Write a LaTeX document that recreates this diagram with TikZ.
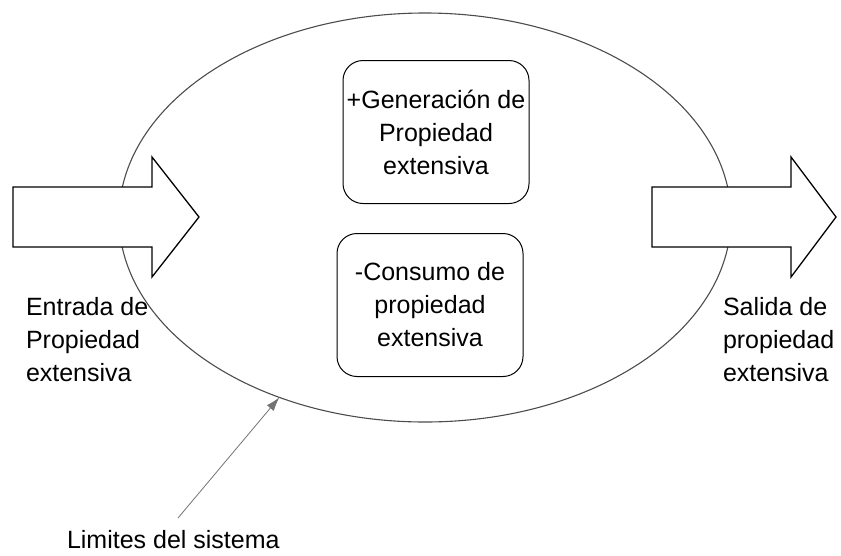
\documentclass[tikz,border=0pt]{standalone}
\usepackage{fontspec}
\setmainfont{Liberation Sans}
\usetikzlibrary{shapes.geometric,arrows.meta}
\begin{document}
\begin{tikzpicture}[x=1pt,y=-1pt,
  lbl/.style={font=\fontsize{25}{33}\selectfont, inner sep=0pt, outer sep=0pt},
  roundbox/.style={draw=black, line width=1pt, rounded corners=20pt, inner sep=0pt, align=center,
    font=\fontsize{25}{33}\selectfont, minimum width=186pt, minimum height=143pt},
  blockarrow/.style={draw=black, fill=white, line width=1.3pt, line join=miter},
  pointer/.style={draw=black!55, line width=0.8pt, -{Latex[length=14pt,width=9pt]}}]
\useasboundingbox (0,0) rectangle (841,555);
% system boundary
\node[ellipse, draw=black!70, line width=1.1pt, minimum width=612pt, minimum height=409pt, inner sep=0pt, outer sep=0pt] (sys) at (425,217.5) {};
% block arrows
\draw[blockarrow] (13,187) -- (152,187) -- (152,157) -- (199,217) -- (152,277) -- (152,247) -- (13,247) -- cycle;
\draw[blockarrow] (652,187) -- (791,187) -- (791,157) -- (836,217) -- (791,277) -- (791,247) -- (652,247) -- cycle;
% inner boxes
\node[roundbox] (gen) at (436,132) {+Generación de\\Propiedad\\extensiva};
\node[roundbox] (con) at (430,305) {-Consumo de\\propiedad\\extensiva};
% labels
\node[lbl, anchor=west, align=left] (ent) at (26,340) {Entrada de\\Propiedad\\extensiva};
\node[lbl, anchor=west, align=left] (sal) at (723,340) {Salida de\\propiedad\\extensiva};
\node[lbl, anchor=base west] (lim) at (67,548) {Limites del sistema};
% pointer
\coordinate (ptr) at (178,518);
\draw[pointer] (ptr) -- (sys.231.5);
\end{tikzpicture}
\end{document}
